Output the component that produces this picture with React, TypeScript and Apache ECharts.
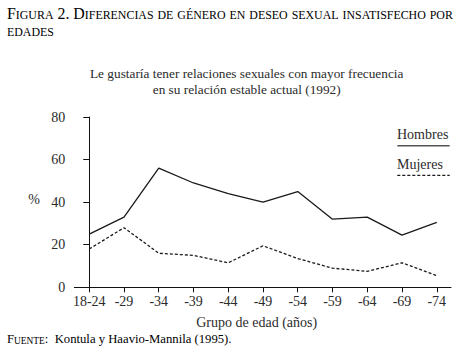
import React, { useEffect, useRef } from "react";
import * as echarts from "echarts";

const categories = ["18-24", "-29", "-34", "-39", "-44", "-49", "-54", "-59", "-64", "-69", "-74"];
const hombres = [25, 33, 56, 49, 44, 40, 45, 32, 33, 24.5, 30.5];
const mujeres = [18, 28, 16, 15, 11.5, 19.5, 13.5, 9, 7.5, 11.5, 5.5];
const yTicks = [0, 20, 40, 60, 80];

const TITLE_1 = "Figura 2. Diferencias de género en deseo sexual insatisfecho por";
const TITLE_2 = "edades";
const SUBTITLE_1 = "Le gustaría tener relaciones sexuales con mayor frecuencia";
const SUBTITLE_2 = "en su relación estable actual (1992)";
const Y_NAME = "%";
const X_NAME = "Grupo de edad (años)";
const LEGEND_H = "Hombres";
const LEGEND_M = "Mujeres";
const SOURCE_LABEL = "Fuente:";
const SOURCE_TEXT = "Kontula y Haavio-Mannila (1995).";

const SERIF = "Liberation Serif";
const INK = "#2b2b2b";

function smallCaps(s: string): string {
  let out = "";
  let buf = "";
  let mode = "";
  const flush = () => {
    if (buf) out += "{" + mode + "|" + buf + "}";
    buf = "";
  };
  for (const ch of s) {
    const isLower = ch !== ch.toUpperCase();
    const m = isLower ? "s" : "b";
    if (m !== mode) {
      flush();
      mode = m;
    }
    buf += isLower ? ch.toUpperCase() : ch;
  }
  flush();
  return out;
}

export default function App() {
  const ref = useRef<HTMLDivElement>(null);
  useEffect(() => {
    if (!ref.current) return;
    const chart = echarts.init(ref.current, undefined, { renderer: "svg" });
    const scRich = {
      b: { fontFamily: SERIF, fontSize: 15.9, color: INK, verticalAlign: "bottom" },
      s: { fontFamily: SERIF, fontSize: 11.9, color: INK, verticalAlign: "bottom" },
    };
    const footRich = {
      b: { fontFamily: SERIF, fontSize: 12.7, color: INK, verticalAlign: "bottom" },
      s: { fontFamily: SERIF, fontSize: 9.4, color: INK, verticalAlign: "bottom" },
    };
    const txt = (text: string, x: number, y: number, size: number, align = "center") => ({
      type: "text",
      x,
      y,
      style: {
        text,
        fontFamily: SERIF,
        fontSize: size,
        fill: INK,
        align,
        verticalAlign: "middle",
      },
    });
    chart.setOption({
      animation: false,
      backgroundColor: "#ffffff",
      grid: { left: 74.3, right: 12, top: 117, bottom: 74.7, containLabel: false },
      xAxis: {
        type: "value",
        min: -0.43,
        max: 10.41,
        axisLine: { show: true, lineStyle: { color: "#111", width: 1 } },
        axisTick: {
          show: true,
          length: 5,
          lineStyle: { color: "#111" },
          customValues: categories.map((_, i) => i),
        },
        axisLabel: {
          show: true,
          margin: 7,
          color: INK,
          fontFamily: SERIF,
          fontSize: 14,
          customValues: categories.map((_, i) => i),
          formatter: (v: number) => categories[Math.round(v)] ?? "",
        },
        splitLine: { show: false },
      },
      yAxis: {
        type: "value",
        min: 0,
        max: 80,
        interval: 20,
        axisLine: { show: true, lineStyle: { color: "#111", width: 1 } },
        axisTick: { show: true, length: 6, lineStyle: { color: "#111" } },
        axisLabel: {
          margin: 9,
          color: INK,
          fontFamily: SERIF,
          fontSize: 14,
          formatter: (v: number) => (yTicks.includes(v) ? String(v) : ""),
        },
        splitLine: { show: false },
      },
      series: [
        {
          name: LEGEND_H,
          type: "line",
          data: hombres.map((v, i) => [i, v]),
          symbol: "none",
          lineStyle: { color: "#1a1a1a", width: 1.3 },
        },
        {
          name: LEGEND_M,
          type: "line",
          data: mujeres.map((v, i) => [i, v]),
          symbol: "none",
          lineStyle: { color: "#1a1a1a", width: 1.3, type: [3, 2] },
        },
      ],
      graphic: [
        {
          type: "text",
          left: 7,
          top: 5,
          style: { text: smallCaps(TITLE_1), rich: scRich },
        },
        {
          type: "text",
          left: 7,
          top: 25.5,
          style: { text: smallCaps(TITLE_2), rich: scRich },
        },
        txt(SUBTITLE_1, 246.7, 73.8, 13.3),
        txt(SUBTITLE_2, 246.7, 89.3, 13.3),
        txt(Y_NAME, 34, 199, 14),
        txt(X_NAME, 256.7, 322, 14),
        txt(LEGEND_H, 397, 134.3, 14, "left"),
        {
          type: "line",
          shape: { x1: 397.3, y1: 145.7, x2: 449.7, y2: 145.7 },
          style: { stroke: "#555", lineWidth: 1.6 },
        },
        txt(LEGEND_M, 397, 164.3, 14, "left"),
        {
          type: "line",
          shape: { x1: 397.3, y1: 175.3, x2: 449.7, y2: 175.3 },
          style: { stroke: "#1a1a1a", lineWidth: 1.3, lineDash: [3, 2] },
        },
        {
          type: "text",
          left: 7,
          top: 332,
          style: {
            text: smallCaps(SOURCE_LABEL) + "{b|  " + SOURCE_TEXT + "}",
            rich: footRich,
          },
        },
      ],
    });
    return () => chart.dispose();
  }, []);
  return (
    <div
      ref={ref}
      style={{ position: "fixed", left: 0, top: 0, width: 463, height: 362, background: "#fff" }}
    />
  );
}
